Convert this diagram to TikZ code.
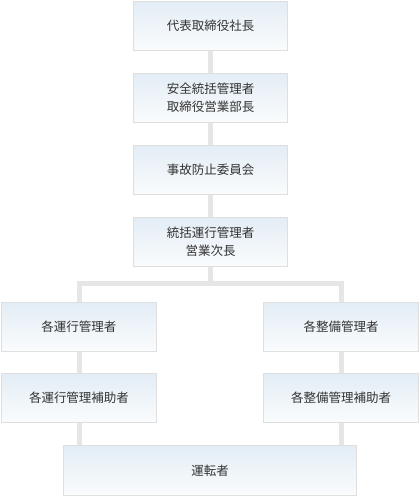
\documentclass[tikz,border=0pt]{standalone}
\usepackage{fontspec}
\usepackage{xcolor}
\usepackage{tikz}
\usetikzlibrary{backgrounds}
\newfontfamily\jpfont{Noto Sans CJK JP}
\definecolor{boxtop}{HTML}{E3EDF5}
\definecolor{boxbot}{HTML}{FAFCFD}
\definecolor{boxline}{HTML}{DFDFDF}
\definecolor{linkgrey}{HTML}{E6E6E6}
\definecolor{txtgrey}{HTML}{333333}

\begin{document}
\begin{tikzpicture}[x=1pt, y=-1pt,
    post/.style={draw=boxline, line width=1.6pt, top color=boxtop, bottom color=boxbot,
      minimum height=49pt, inner sep=0pt, align=center, text=txtgrey,
      font=\jpfont\fontsize{12.5}{18}\selectfont},
    link/.style={draw=linkgrey, line width=5pt}]

  \useasboundingbox (0,0) rectangle (420,496);

  % -- the single chain down the middle
  \node[post, minimum width=154pt] (ceo)   at (210.5,26)  {代表取締役社長};
  \node[post, minimum width=154pt] (safe)  at (210.5,98)  {安全統括管理者\\取締役営業部長};
  \node[post, minimum width=154pt] (board) at (210.5,170) {事故防止委員会};
  \node[post, minimum width=154pt] (chief) at (210.5,242) {統括運行管理者\\営業次長};

  % -- the two branches, operation on the left, maintenance on the right
  \node[post, minimum width=155pt] (opl) at (79,327)  {各運行管理者};
  \node[post, minimum width=155pt] (opa) at (79,398)  {各運行管理補助者};
  \node[post, minimum width=155pt] (mnl) at (341,327) {各整備管理者};
  \node[post, minimum width=155pt] (mna) at (341,398) {各整備管理補助者};

  % -- where both branches end
  \node[post, minimum width=293pt, minimum height=50pt] (drv) at (210,470.5) {運転者};

  \coordinate (bar) at (210.5,283.5);

  % -- the grey links, kept behind the boxes
  \begin{scope}[on background layer]
    \draw[link] (ceo) -- (safe);
    \draw[link] (safe) -- (board);
    \draw[link] (board) -- (chief);
    \draw[link] (chief) -- (bar);
    \draw[link] (opl.north) |- (bar) -| (mnl.north);
    \draw[link] (opl) -- (opa);
    \draw[link] (mnl) -- (mna);
    \draw[link] (opa.south) -- (opa.south |- drv.north);
    \draw[link] (mna.south) -- (mna.south |- drv.north);
  \end{scope}

\end{tikzpicture}
\end{document}
